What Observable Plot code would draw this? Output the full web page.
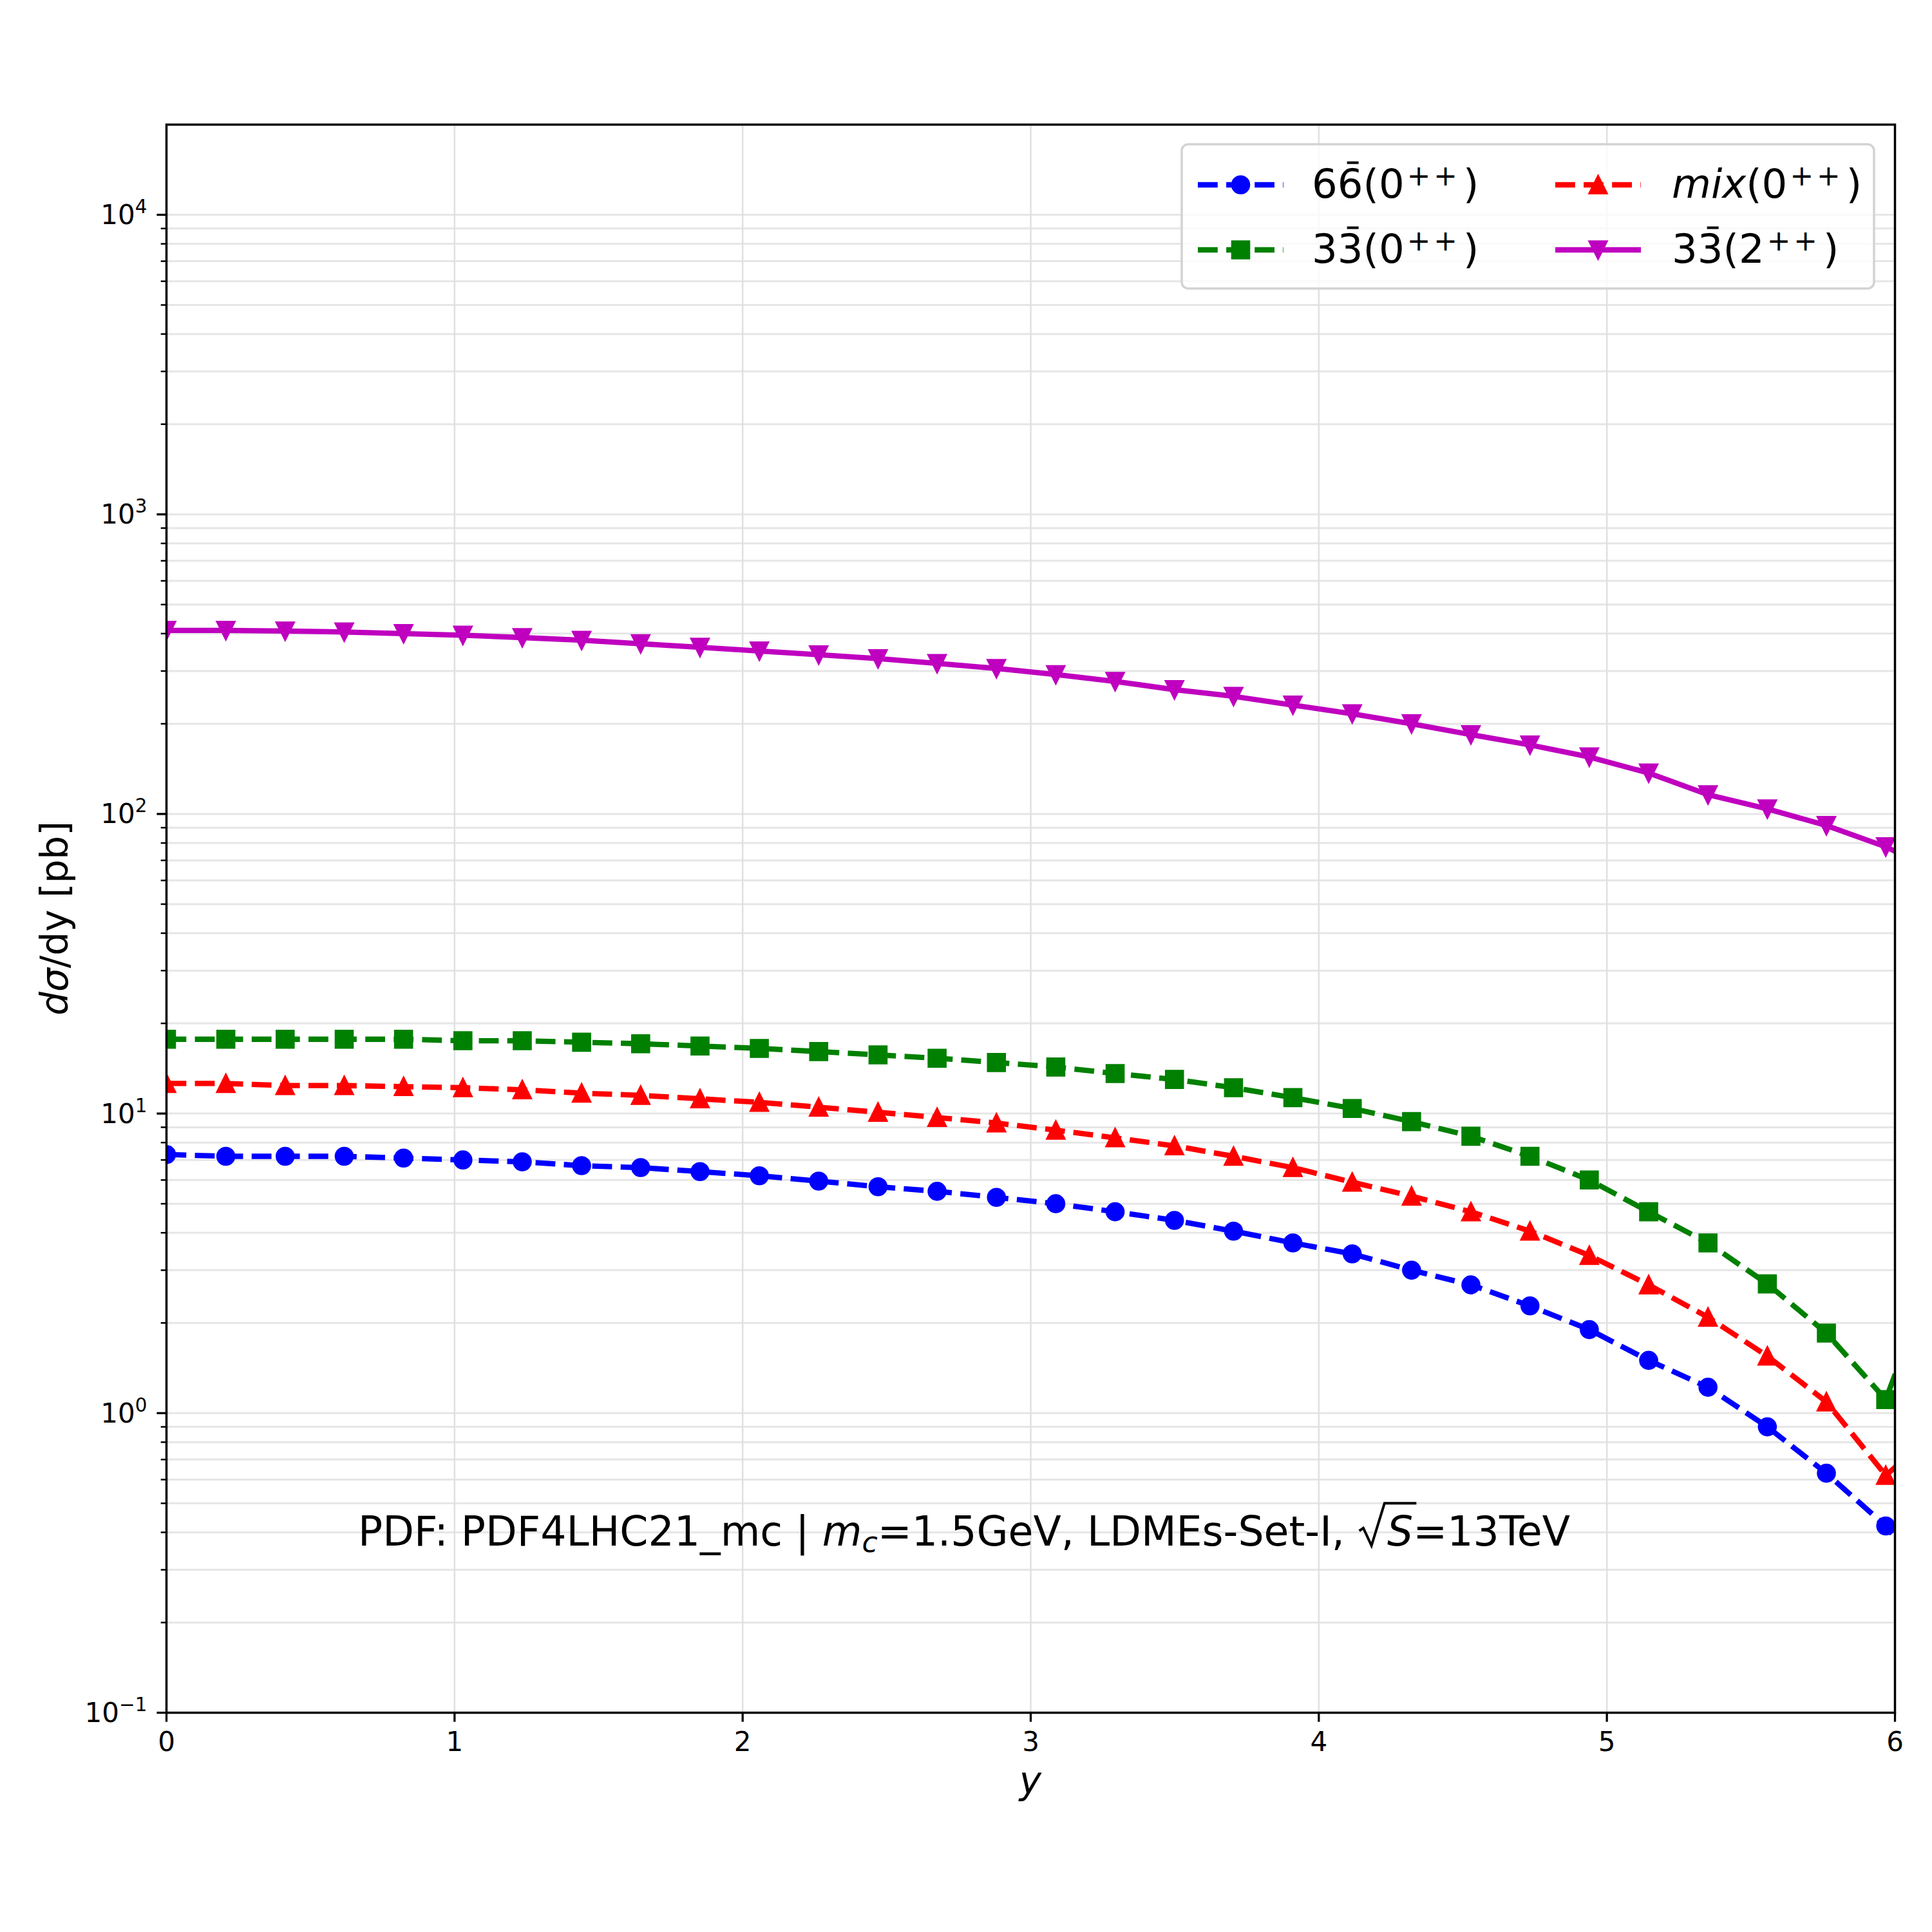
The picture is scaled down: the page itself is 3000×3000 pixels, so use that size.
<!DOCTYPE html>
<html>
<head>
<meta charset="utf-8">
<script src="https://cdn.jsdelivr.net/npm/d3@7"></script>
<script src="https://cdn.jsdelivr.net/npm/@observablehq/plot@0.6"></script>
<style>
  html, body { margin: 0; padding: 0; background: #ffffff; }
  svg text { white-space: pre; }
</style>
</head>
<body>
<div id="chart"></div>
<script>
// ---------------- data ----------------
const rapidity = [0, 0.206, 0.412, 0.617, 0.823, 1.029, 1.235, 1.441, 1.646, 1.852,
  2.058, 2.264, 2.470, 2.675, 2.881, 3.087, 3.293, 3.499, 3.704, 3.910,
  4.116, 4.322, 4.528, 4.733, 4.939, 5.145, 5.351, 5.557, 5.762, 5.968, 6.174];

const sextet0 = [7.3, 7.2, 7.2, 7.2, 7.1, 7.0, 6.9, 6.7, 6.6, 6.4,
  6.2, 5.95, 5.7, 5.5, 5.25, 5.0, 4.7, 4.4, 4.05, 3.7,
  3.4, 3.0, 2.68, 2.28, 1.9, 1.5, 1.22, 0.90, 0.63, 0.42, 0.24];

const triplet0 = [17.7, 17.7, 17.7, 17.7, 17.7, 17.5, 17.5, 17.3, 17.1, 16.8,
  16.5, 16.1, 15.7, 15.3, 14.8, 14.3, 13.6, 13.0, 12.2, 11.3,
  10.4, 9.4, 8.4, 7.2, 6.0, 4.7, 3.7, 2.7, 1.85, 1.11, 3.8];

const mixed0 = [12.6, 12.6, 12.4, 12.4, 12.3, 12.2, 12.0, 11.7, 11.5, 11.2,
  10.9, 10.5, 10.1, 9.7, 9.3, 8.8, 8.3, 7.8, 7.2, 6.6,
  5.9, 5.3, 4.7, 4.05, 3.36, 2.68, 2.09, 1.55, 1.09, 0.62, 0.92];

const triplet2 = [410, 410, 408, 405, 400, 395, 388, 380, 370, 360,
  350, 340, 330, 318, 306, 292, 277, 260, 247, 231,
  216, 200, 184, 170, 155, 137, 116, 104, 91.5, 77.7, 62];

const xTicks = [0, 1, 2, 3, 4, 5, 6];
const xTickLabels = ["0", "1", "2", "3", "4", "5", "6"];
const yTicks = [0.1, 1, 10, 100, 1000, 10000];
const yTickExponents = ["\u22121", "0", "1", "2", "3", "4"];
const yMinorTicks = [];
for (let k = -1; k <= 4; k++) for (let m = 2; m <= 9; m++) {
  const v = m * Math.pow(10, k);
  if (v < 2e4) yMinorTicks.push(v);
}

// ---------------- styling ----------------
const FONT = "DejaVu Sans";
const W = 3000, H = 3000;
const mL = 258, mR = 58, mT = 193, mB = 341;

// matplotlib-like marker shapes; r = sqrt(size/pi)
const mk = fn => ({draw(ctx, size) { const r = Math.sqrt(size / Math.PI); fn(ctx, r); }});
const circleSym = mk((c, r) => { c.moveTo(r, 0); c.arc(0, 0, r, 0, 2 * Math.PI); c.closePath(); });
const squareSym = mk((c, r) => { c.moveTo(-r, -r); c.lineTo(r, -r); c.lineTo(r, r); c.lineTo(-r, r); c.closePath(); });
const triUpSym = mk((c, r) => { c.moveTo(0, -r); c.lineTo(r, r); c.lineTo(-r, r); c.closePath(); });
const triDownSym = mk((c, r) => { c.moveTo(0, r); c.lineTo(r, -r); c.lineTo(-r, -r); c.closePath(); });

const MR = 12.8;          // marker half-size
const LW = 8.3;           // line width
const DASH = "30.8,13.3"; // matplotlib dashed

const series = [
  {values: sextet0,  color: "#0000ff", dash: DASH, symbol: circleSym},
  {values: triplet0, color: "#008000", dash: DASH, symbol: squareSym},
  {values: mixed0,   color: "#ff0000", dash: DASH, symbol: triUpSym},
  {values: triplet2, color: "#bf00bf", dash: null, symbol: triDownSym}
];

const seriesMarks = [];
for (const s of series) {
  const rows = rapidity.map((x, i) => ({x, v: s.values[i]}));
  seriesMarks.push(Plot.line(rows, {
    x: "x", y: "v", stroke: s.color, strokeWidth: LW,
    strokeDasharray: s.dash || undefined,
    strokeLinecap: s.dash ? "butt" : "round", strokeLinejoin: "round", clip: true
  }));
  seriesMarks.push(Plot.dot(rows, {
    x: "x", y: "v", r: MR, symbol: s.symbol, fill: s.color, stroke: s.color,
    strokeWidth: 4, strokeLinejoin: "miter", clip: true
  }));
}

const plot = Plot.plot({
  width: W, height: H,
  marginLeft: mL, marginRight: mR, marginTop: mT, marginBottom: mB,
  style: {fontFamily: FONT, fontSize: "42px", background: "#ffffff", color: "#000000"},
  x: {domain: [0, 6], label: null},
  y: {type: "log", domain: [0.1, 2e4], label: null},
  marks: [
    Plot.ruleY(yMinorTicks.concat(yTicks), {stroke: "#e6e6e6", strokeWidth: 3}),
    Plot.ruleX(xTicks, {stroke: "#e0e0e0", strokeWidth: 2.5}),
    ...seriesMarks,
    Plot.frame({stroke: "#000000", strokeWidth: 3.5}),
    Plot.axisX({ticks: xTicks, tickSize: 14.6, tickPadding: 15, strokeWidth: 3.3,
      fontSize: 42, label: null, tickFormat: d => xTickLabels[xTicks.indexOf(d)]}),
    Plot.axisY({ticks: yTicks, tickSize: 14.6, strokeWidth: 3.3, label: null, tickFormat: () => ""}),
    Plot.axisY({ticks: yMinorTicks, tickSize: 8.3, strokeWidth: 2.5, label: null, tickFormat: () => ""})
  ]
});

document.getElementById("chart").appendChild(plot);

// ---------------- text helpers ----------------
const svg = d3.select(plot);
const yScale = plot.scale("y");

function richText(parent, x, y, segs, size, anchor) {
  const t = parent.append("text")
    .attr("x", x).attr("y", y)
    .attr("font-family", FONT).attr("font-size", size)
    .attr("fill", "#000000")
    .attr("text-anchor", anchor || "start");
  for (const s of segs) {
    const ts = t.append("tspan").text(s.t);
    if (s.italic) ts.attr("font-style", "italic");
    if (s.scale) ts.attr("font-size", size * s.scale);
    if (s.dy) ts.attr("dy", s.dy);
    if (s.dx) ts.attr("dx", s.dx);
    if (s.ls) ts.attr("letter-spacing", s.ls);
  }
  return t;
}

// y tick labels 10^k
const gy = svg.append("g");
yTicks.forEach((v, i) => {
  richText(gy, mL - 14.6 - 15, yScale.apply(v) + 15, [
    {t: "10"},
    {t: yTickExponents[i], scale: 0.7, dy: -17}
  ], 42, "end");
});

// axis labels
const yl = svg.append("g")
  .attr("transform", `translate(86,${(mT + H - mB) / 2}) rotate(-90)`);
richText(yl, 0, 0, [{t: "d\u03c3", italic: true}, {t: "/dy [pb]"}], 58, "middle").attr("dy", "0.32em");

richText(svg, (mL + W - mR) / 2, 2785, [{t: "y", italic: true}], 58, "middle");

// caption inside the axes
const FC = 63.3;
const capSegs = [
  {t: "PDF: PDF4LHC21_mc | "},
  {t: "m", italic: true},
  {t: "c", italic: true, scale: 0.7, dy: 10},
  {t: "=1.5GeV, LDMEs-Set-I, ", dy: -10},
  {t: "S", italic: true, dx: 46},
  {t: "=13TeV"}
];
const cap = richText(svg, 556, 2400, capSegs, FC);
{
  let idx = 0;
  for (let i = 0; i < 4; i++) idx += capSegs[i].t.length;
  const capNode = cap.node();
  const sStart = capNode.getStartPositionOfChar(idx).x;
  const sEnd = capNode.getEndPositionOfChar(idx).x;
  const x0 = sStart - 46;
  const yb = 2400;
  const p = d3.path();
  p.moveTo(x0 + 0.04 * FC, yb - 0.36 * FC);
  p.lineTo(x0 + 0.14 * FC, yb - 0.43 * FC);
  p.lineTo(x0 + 0.34 * FC, yb + 0.0 * FC);
  p.lineTo(x0 + 0.66 * FC, yb - 1.04 * FC);
  p.lineTo(sEnd + 0.08 * FC, yb - 1.04 * FC);
  svg.append("path").attr("d", p.toString()).attr("fill", "none")
    .attr("stroke", "#000000").attr("stroke-width", 4).attr("stroke-linejoin", "miter");
}

// ---------------- legend ----------------
const FL = 62.5;
const lg = svg.append("g");
lg.append("rect")
  .attr("x", 1835).attr("y", 224).attr("width", 1075).attr("height", 224)
  .attr("rx", 10).attr("ry", 10)
  .attr("fill", "#ffffff").attr("fill-opacity", 0.8)
  .attr("stroke", "#d3d3d3").attr("stroke-width", 3.5);

const supSegs = [{t: "++", scale: 0.7, dy: -19, dx: 4, ls: 5}, {t: ")", dy: 19, dx: 4}];
const legendEntries = [
  {s: series[0], hx: 1860, row: 287, tx: 2037, segs: [{t: "66(0"}, ...supSegs], bar: 1},
  {s: series[1], hx: 1860, row: 388, tx: 2037, segs: [{t: "33(0"}, ...supSegs], bar: 1},
  {s: series[2], hx: 2415, row: 287, tx: 2596, segs: [{t: "mix", italic: true}, {t: "(0"}, ...supSegs], bar: -1},
  {s: series[3], hx: 2415, row: 388, tx: 2596, segs: [{t: "33(2"}, ...supSegs], bar: 1}
];
const HL = 133;
for (const e of legendEntries) {
  const ln = lg.append("line")
    .attr("x1", e.hx).attr("x2", e.hx + HL).attr("y1", e.row).attr("y2", e.row)
    .attr("stroke", e.s.color).attr("stroke-width", LW);
  if (e.s.dash) ln.attr("stroke-dasharray", e.s.dash).attr("stroke-linecap", "butt");
  lg.append("path")
    .attr("d", d3.symbol(e.s.symbol, Math.PI * MR * MR)())
    .attr("transform", `translate(${e.hx + HL / 2},${e.row})`)
    .attr("fill", e.s.color).attr("stroke", e.s.color).attr("stroke-width", 4)
    .attr("stroke-linejoin", "miter");
  const t = richText(lg, e.tx, e.row + 20, e.segs, FL);
  if (e.bar >= 0) {
    const n = t.node();
    const a = n.getStartPositionOfChar(e.bar).x;
    const b = n.getEndPositionOfChar(e.bar).x;
    const cx = (a + b) / 2 + 4;
    lg.append("line")
      .attr("x1", cx - 9).attr("x2", cx + 9)
      .attr("y1", e.row + 20 - 0.87 * FL).attr("y2", e.row + 20 - 0.87 * FL)
      .attr("stroke", "#000000").attr("stroke-width", 4);
  }
}
</script>
</body>
</html>
